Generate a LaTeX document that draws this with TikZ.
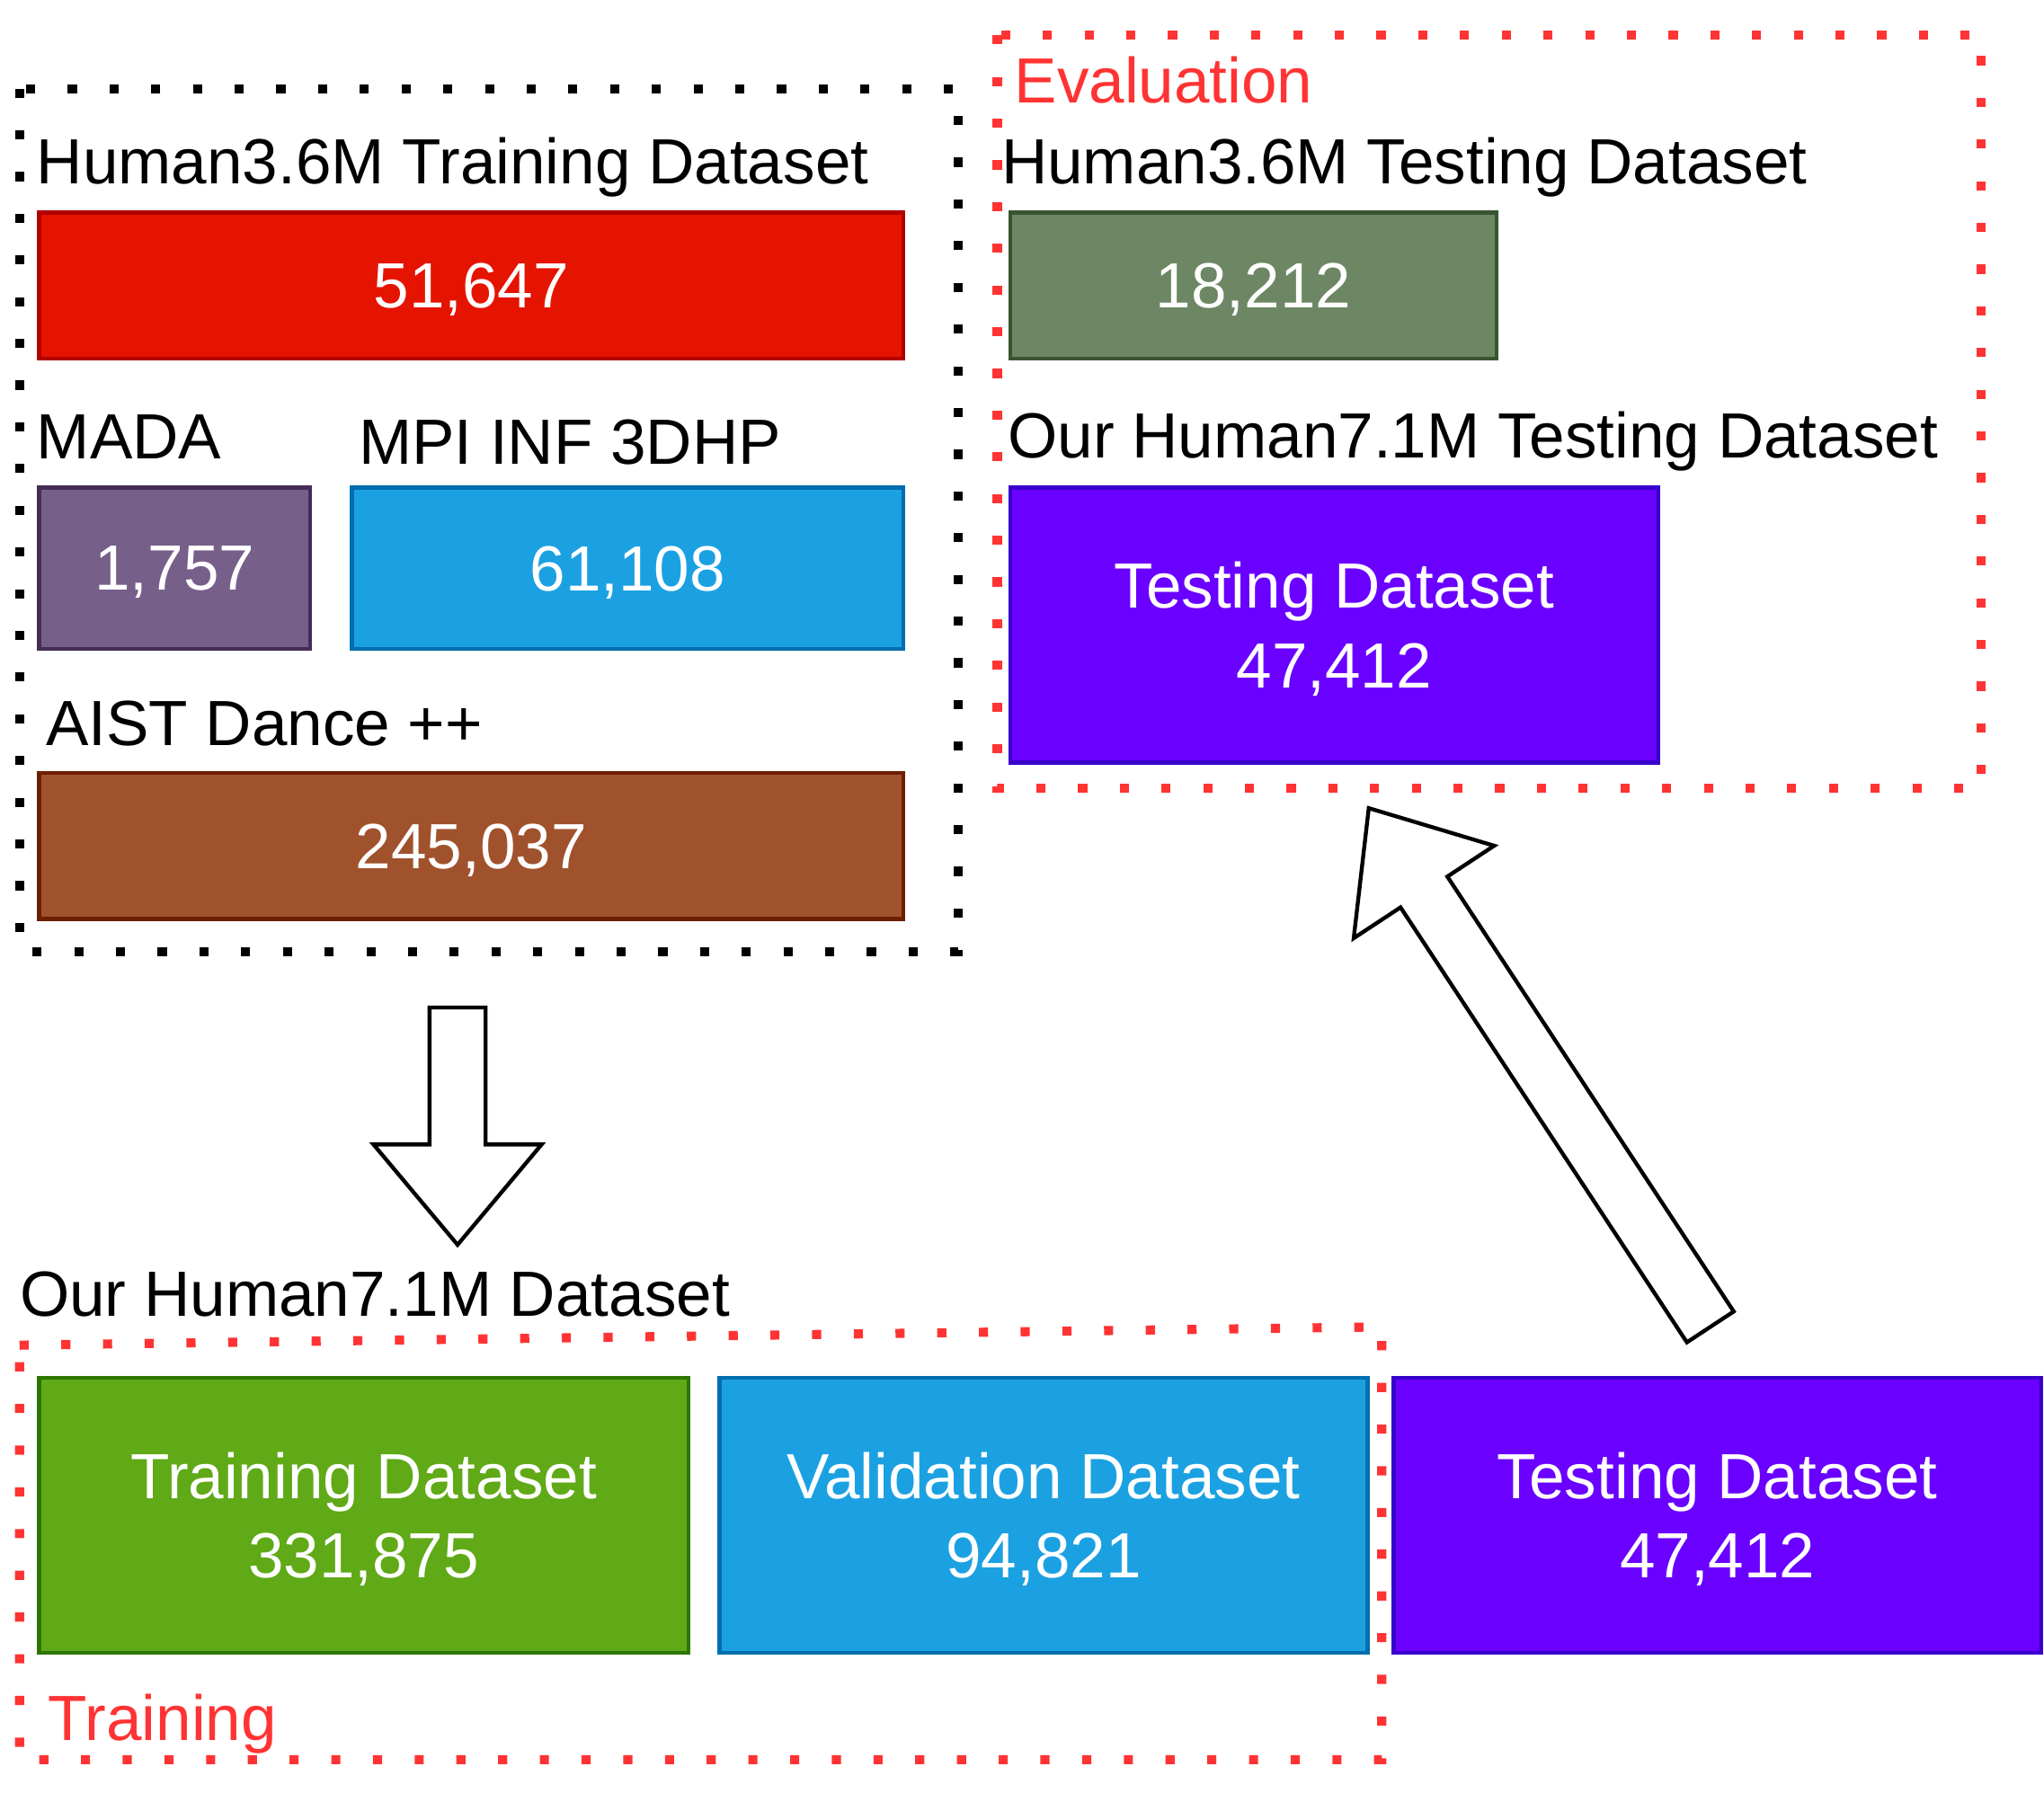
\documentclass[tikz,border=0pt]{standalone}
\usepackage{fontspec}
\setmainfont{Liberation Sans}
\usetikzlibrary{calc}

\definecolor{redfill}{HTML}{E51400}
\definecolor{redline}{HTML}{B20000}
\definecolor{purplefill}{HTML}{76608A}
\definecolor{purpleline}{HTML}{432D57}
\definecolor{bluefill}{HTML}{1BA1E2}
\definecolor{blueline}{HTML}{006EAF}
\definecolor{brownfill}{HTML}{A0522D}
\definecolor{brownline}{HTML}{6D1F00}
\definecolor{olivefill}{HTML}{6D8764}
\definecolor{oliveline}{HTML}{3A5431}
\definecolor{violetfill}{HTML}{6A00FF}
\definecolor{violetline}{HTML}{3700CC}
\definecolor{greenfill}{HTML}{60A917}
\definecolor{greenline}{HTML}{2D7600}
\definecolor{groupred}{HTML}{FF3333}

%% hollow block arrow from #1 (tail) to #2 (tip)
\newcommand{\bigarrow}[2]{%
  \coordinate (#1neck) at ($(#2)!77pt!(#1)$);
  \draw[arrowDecorate]
    ($(#1)!21.5pt!90:(#2)$) -- ($(#1neck)!21.5pt!90:(#2)$)
    -- ($(#1neck)!64.5pt!90:(#2)$) -- (#2)
    -- ($(#1neck)!64.5pt!-90:(#2)$) -- ($(#1neck)!21.5pt!-90:(#2)$)
    -- ($(#1)!21.5pt!-90:(#2)$) -- cycle;
}

\begin{document}
\begin{tikzpicture}
[x=1pt,y=-1pt,%
  boxDecorate/.style={anchor=north west,inner sep=0pt,outer sep=0pt,line width=3pt,
    text=white,align=center,text depth=0pt,font=\fontsize{49}{61}\selectfont},%
  labelDecorate/.style={anchor=base west,inner sep=0pt,font=\fontsize{49}{61}\selectfont},%
  groupDecorate/.style={line width=7pt,dash pattern=on 7pt off 25pt},%
  arrowDecorate/.style={draw=black,fill=white,line width=3pt}]
\useasboundingbox (0,0) rectangle (1568,1382);
%% dotted groups
\draw[groupDecorate,black] (15,68) rectangle (735,730);
\draw[groupDecorate,groupred] (765,27) rectangle (1520,605);
\draw[groupDecorate,groupred] (15,1032) -- (1060,1018) -- (1060,1350) -- (15,1350) -- cycle;
%% dataset boxes
\foreach \boxname/\x/\y/\w/\h/\fillcol/\drawcol/\boxtext in {
  h36train/30/163/663/112/redfill/redline/{51,647},
  mada/30/374/208/124/purplefill/purpleline/{1,757},
  mpi/270/374/423/124/bluefill/blueline/{61,108},
  aist/30/593/663/112/brownfill/brownline/{245,037},
  h36test/775/163/373/112/olivefill/oliveline/{18,212},
  oureval/775/374/497/211/violetfill/violetline/{Testing Dataset\\47,412},
  ourtrain/30/1057/498/211/greenfill/greenline/{Training Dataset\\331,875},
  ourval/552/1057/497/211/bluefill/blueline/{Validation Dataset\\94,821},
  ourtest/1069/1057/497/211/violetfill/violetline/{Testing Dataset\\47,412}}
{
  \node (\boxname) at (\x,\y) [boxDecorate,fill=\fillcol,draw=\drawcol,
    minimum width=\w pt,minimum height=\h pt] {\boxtext};
}
%% labels
\foreach \labelname/\x/\y/\labeltext in {
  h36trainlabel/28/141/Human3.6M Training Dataset,
  madalabel/28/352/MADA,
  mpilabel/275/356/MPI INF 3DHP,
  aistlabel/35/572/AIST Dance ++,
  h36testlabel/768/141/Human3.6M Testing Dataset,
  ourevallabel/773/351/Our Human7.1M Testing Dataset,
  ourlabel/15/1010/Our Human7.1M Dataset}
{
  \node (\labelname) at (\x,\y) [labelDecorate] {\labeltext};
}
\node (evallabel) at (778,79) [labelDecorate,text=groupred] {Evaluation};
\node (trainlabel) at (37,1335) [labelDecorate,text=groupred] {Training};
%% arrows
\coordinate (mergetail) at (351,773);
\coordinate (mergetip) at (351,955);
\coordinate (testtail) at (1312,1018);
\coordinate (testtip) at (1050,620);
\bigarrow{mergetail}{mergetip}
\bigarrow{testtail}{testtip}
\end{tikzpicture}
\end{document}
